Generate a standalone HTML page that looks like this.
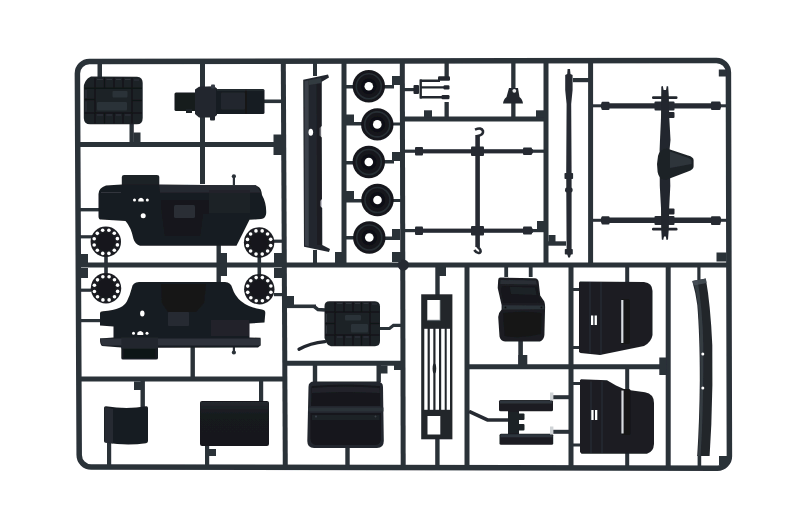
<!DOCTYPE html>
<html><head><meta charset="utf-8"><title>Sprue</title>
<style>
html,body{margin:0;padding:0;background:#fff;}
body{width:800px;height:530px;overflow:hidden;font-family:"Liberation Sans",sans-serif;}
svg{display:block;}
</style></head><body>
<svg width="800" height="530" viewBox="0 0 800 530">
<defs>
<linearGradient id="gStrip" x1="0" x2="1" y1="0" y2="0"><stop offset="0" stop-color="#3a424b"/><stop offset="0.35" stop-color="#23282e"/><stop offset="1" stop-color="#15181c"/></linearGradient>
<radialGradient id="gWheel" cx="0.5" cy="0.5" r="0.5"><stop offset="0" stop-color="#101215"/><stop offset="0.6" stop-color="#14171a"/><stop offset="0.8" stop-color="#2a3037"/><stop offset="1" stop-color="#15181b"/></radialGradient>
<filter id="soft" x="-2%" y="-2%" width="104%" height="104%"><feGaussianBlur stdDeviation="0.55"/></filter>
<linearGradient id="gPanel" x1="0" x2="0" y1="0" y2="1"><stop offset="0" stop-color="#2a2f36" stop-opacity="0.75"/><stop offset="0.3" stop-color="#1a1d21" stop-opacity="0.3"/><stop offset="1" stop-color="#14161a" stop-opacity="0"/></linearGradient>
</defs>
<rect width="800" height="530" fill="#fff"/>
<g filter="url(#soft)">
<!-- FRAME -->
<g id="frame" fill="none" stroke="#2a3038" stroke-width="5" stroke-linecap="butt">
<path stroke-width="5.5" d="M79.2 455 L77.4 73.5 A12 12 0 0 1 89.4 61.5 L716.4 60.4 A12 12 0 0 1 728.4 72.4 L729.4 456 A12 12 0 0 1 717.4 468.2 L91.2 467 A12 12 0 0 1 79.2 455 Z"/>
<path d="M202.5 62 V184"/>
<path d="M283.3 62 L285.3 467"/>
<path d="M344 62 V265"/>
<path d="M402.3 62 L403.2 467"/>
<path d="M546 62 V265"/>
<path d="M590.6 62 V265"/>
<path d="M467 265 V467.6"/>
<path d="M571 265 V468"/>
<path d="M668.2 265 V468"/>
<path d="M78 144.5 H283"/>
<path d="M78 265 H728"/>
<path d="M402 119 H546"/>
<path d="M78 379 H284"/>
<path d="M284 363.3 H402"/>
<path d="M467 366.8 H668"/>
</g>
<circle cx="403.3" cy="265" r="5.6" fill="#262b32"/>
<g id="parts">
<!-- small stubs & tabs (frame colour) -->
<g id="stubs" fill="#2a3038" stroke="none">
<rect x="97.5" y="63" width="4.5" height="14"/>
<rect x="129.5" y="124" width="4.3" height="19"/>
<rect x="133.5" y="132.5" width="7" height="10"/>
<rect x="263" y="99.5" width="19" height="3.6"/>
<rect x="273.5" y="134.5" width="9" height="20.5"/>
<rect x="313" y="63" width="4" height="13"/>
<rect x="313" y="250" width="4" height="14"/>
<rect x="335" y="252" width="8" height="11"/>
</g>
<!-- Tank 1 -->
<g id="tank1">
<path d="M91 76.4 L137 76.7 Q142.7 77 142.7 83 L142.7 118 Q142.7 124.3 137 124.3 L90 124.3 Q84 124.3 83.8 118 L83.8 87 Q84 82 88 78.3 Z" fill="#1f2328"/>
<g fill="none" stroke="#0f1113" stroke-width="1.4" opacity="0.85">
<rect x="95" y="88.2" width="37" height="24.8" rx="1.5"/>
<path d="M95 78 V88.2 M104.5 77.5 V88.2 M114 77.5 V88.2 M123 77.5 V88.2 M132 78 V88.2"/>
<path d="M95 113 V123.5 M104.5 113 V123.5 M114 113 V123.5 M123 113 V123.5 M132 113 V123.5"/>
<path d="M84.5 88.2 H95 M84.5 99.5 H95 M84.5 113 H95 M132 88.2 H142 M132 100.5 H142 M132 113 H142"/>
</g>
<g fill="#2d3239" opacity="0.9"><rect x="112.5" y="91" width="15" height="6.5" rx="1"/><rect x="97" y="102" width="30" height="8.5" rx="1"/></g>
<g fill="none" stroke="#3a4048" stroke-width="0.9" opacity="0.7">
<path d="M97 79.5 H103 M106.5 79.5 H112 M116 79.5 H121 M125 79.5 H130.5 M134 80 H139"/>
<path d="M86 90 V98 M86 101.5 V111.5 M97 115 H103 M106.5 115 H112 M116 115 H121 M125 115 H130.5"/>
</g>
</g>
<!-- Engine / seat part -->
<g id="engine">
<rect x="174.5" y="92.5" width="23" height="18.5" rx="1.5" fill="#181b1f"/>
<rect x="186" y="109" width="6" height="4" fill="#1d2126"/>
<path d="M195 89.5 L199 86.8 L214 86.3 L217 88.5 L217 115 L214 117.5 L199 117.5 L195 114 Z" fill="#23282e"/>
<rect x="211" y="84.5" width="4" height="4" rx="1" fill="#343b44"/>
<rect x="210" y="116" width="5" height="4.5" rx="1" fill="#23282e"/>
<rect x="216" y="89" width="48.5" height="25" rx="1.5" fill="#191c20"/>
<rect x="221" y="92.5" width="24" height="17" rx="1" fill="#22272d"/>
<path d="M246 89.5 V113.5" stroke="#0f1113" stroke-width="1.2"/>
<path d="M217 90 H264" stroke="#3a424b" stroke-width="1" opacity="0.7"/>
</g>
<!-- Long strip -->
<g id="strip1">
<path d="M303.2 79.8 L328 74.5 L329 77.6 L321.8 81.8 L321.8 126 L319.6 128 L319.6 135.5 L321.8 137.5 L322 199 L320 201 L320 206 L322.2 208 L322.3 245 L330 249 L329 252 L304 246.8 Z" fill="#24282e"/>
<path d="M304.6 81.2 L308.6 80.3 L308.8 246.3 L305 245.6 Z" fill="#424951" opacity="0.75"/>
<path d="M308.8 80.3 L321 78 L321.5 83 L308.8 85 Z" fill="#3a4149" opacity="0.7"/>
<path d="M316.5 84 L321 83.5 L321.5 245 L317 245 Z" fill="#15181b" opacity="0.6"/>
<ellipse cx="310.8" cy="132.3" rx="2.3" ry="3.5" fill="#fff"/>
</g>
<!-- Wheels -->
<g id="wheels">
<g fill="#2a3038">
<rect x="346" y="85" width="8" height="3.5"/><rect x="384" y="85" width="10" height="3.5"/><rect x="392" y="76" width="8" height="9"/>
<rect x="346" y="122" width="16" height="3.5"/><rect x="346" y="114.5" width="8" height="8"/><rect x="393" y="122.5" width="8" height="3"/>
<rect x="346" y="161" width="8" height="3.5"/><rect x="384" y="160" width="10" height="3.5"/><rect x="392" y="152" width="8" height="9"/>
<rect x="346" y="199" width="16" height="3.5"/><rect x="346" y="191" width="8" height="8"/><rect x="393" y="199" width="8" height="3"/>
<rect x="346" y="236" width="8" height="3.5"/><rect x="384" y="236.5" width="16" height="3.5"/><rect x="392" y="229" width="8" height="8"/>
</g>
</g>
<g transform="translate(368.8 86.3)"><circle cx="0" cy="0" r="16.2" fill="#15181b"/><circle cx="0" cy="0" r="12.5" fill="none" stroke="#2d343b" stroke-width="1.6" opacity="0.8"/><circle cx="0" cy="0" r="8" fill="#0f1113"/><circle cx="0" cy="0" r="4.3" fill="#fff"/></g><g transform="translate(377.3 124.4)"><circle cx="0" cy="0" r="16.2" fill="#15181b"/><circle cx="0" cy="0" r="12.5" fill="none" stroke="#2d343b" stroke-width="1.6" opacity="0.8"/><circle cx="0" cy="0" r="8" fill="#0f1113"/><circle cx="0" cy="0" r="4.3" fill="#fff"/></g><g transform="translate(368.8 162)"><circle cx="0" cy="0" r="16.2" fill="#15181b"/><circle cx="0" cy="0" r="12.5" fill="none" stroke="#2d343b" stroke-width="1.6" opacity="0.8"/><circle cx="0" cy="0" r="8" fill="#0f1113"/><circle cx="0" cy="0" r="4.3" fill="#fff"/></g><g transform="translate(377.5 200)"><circle cx="0" cy="0" r="16.2" fill="#15181b"/><circle cx="0" cy="0" r="12.5" fill="none" stroke="#2d343b" stroke-width="1.6" opacity="0.8"/><circle cx="0" cy="0" r="8" fill="#0f1113"/><circle cx="0" cy="0" r="4.3" fill="#fff"/></g><g transform="translate(369.3 237.5)"><circle cx="0" cy="0" r="16.2" fill="#15181b"/><circle cx="0" cy="0" r="12.5" fill="none" stroke="#2d343b" stroke-width="1.6" opacity="0.8"/><circle cx="0" cy="0" r="8" fill="#0f1113"/><circle cx="0" cy="0" r="4.3" fill="#fff"/></g>
<!-- Body 1 -->
<g id="body1">
<g fill="#2a3038">
<rect x="80" y="208" width="20" height="3.4"/>
<rect x="264" y="239.6" width="19" height="3.2"/>
<rect x="80" y="235.2" width="13" height="3.2"/>
<rect x="104.2" y="255" width="3.6" height="9"/><rect x="257.5" y="255" width="3.6" height="9"/>
<rect x="104.2" y="267" width="3.6" height="8"/><rect x="257.5" y="267" width="3.6" height="8"/>
<rect x="80" y="254" width="8" height="9"/><rect x="80" y="268" width="8" height="10"/>
<rect x="274" y="253" width="8" height="10"/><rect x="274" y="268" width="8" height="10"/>
<rect x="80" y="288.6" width="11" height="3.2"/><rect x="274" y="293" width="9" height="3.2"/>
<rect x="216.5" y="245" width="4.4" height="19"/><rect x="220" y="253" width="7" height="10"/>
<rect x="216.5" y="267" width="4.4" height="16"/><rect x="220" y="267" width="7" height="9"/>
<rect x="80" y="319" width="22" height="3.2"/>
<rect x="190.5" y="346" width="4.4" height="32"/>
<rect x="232.8" y="176" width="2.2" height="9"/><circle cx="233.9" cy="176.3" r="2.1"/>
<rect x="232.8" y="346" width="2.2" height="6"/><circle cx="233.9" cy="352.5" r="2.1"/>
</g>
<path d="M121.8 185.5 V177 Q121.8 175 124 175 L157 175 Q159.3 175 159.3 177 V185.5 Z" fill="#1f2328"/>
<path d="M98.5 194 Q98.7 188 106 185.6 L121.8 184.6 L159.3 184.6 L255 185.4 Q260.5 186 261.5 192 L262 195 Q266.5 203 266.2 213 Q266 218.5 261 219 L249.5 219.8 Q243 233 236.5 245.8 L140 245.8 Q135 244 133.5 239 Q131 227 125.5 221 L101 219.6 Q98.5 219.6 98.5 216.5 Z" fill="#191c20"/>
<path d="M159.3 185 H256 L261 192.5 H160 Z" fill="#2a2f35" opacity="0.9"/>
<path d="M209 190 H250 V213 H209 Z" fill="#202429" opacity="0.9"/>
<path d="M161 200 H209 V214 H203 L200 236 H165 L162 214 Z" fill="#13161a" opacity="0.9"/>
<rect x="174" y="205" width="21" height="13" rx="1.5" fill="#2a2f36"/>
<path d="M101 192.5 H121" stroke="#30363d" stroke-width="1"/>
<circle cx="134.5" cy="200" r="1.5" fill="#fff"/><path d="M138.3 201.6 V199.5 Q141 196 143.7 199.5 V201.6 Z" fill="#fff"/><circle cx="147.3" cy="200" r="1.5" fill="#fff"/>
<circle cx="143.2" cy="215.8" r="2.5" fill="#fff"/>
</g>
<g transform="translate(105.8 241.8)"><circle r="15.2" fill="#1b1e22"/><circle r="9.3" fill="#15171a"/><circle cx="11.60" cy="3.08" r="1.8" fill="#fff"/><circle cx="8.50" cy="8.47" r="1.8" fill="#fff"/><circle cx="3.13" cy="11.59" r="1.8" fill="#fff"/><circle cx="-3.08" cy="11.60" r="1.8" fill="#fff"/><circle cx="-8.47" cy="8.50" r="1.8" fill="#fff"/><circle cx="-11.59" cy="3.13" r="1.8" fill="#fff"/><circle cx="-11.60" cy="-3.08" r="1.8" fill="#fff"/><circle cx="-8.50" cy="-8.47" r="1.8" fill="#fff"/><circle cx="-3.13" cy="-11.59" r="1.8" fill="#fff"/><circle cx="3.08" cy="-11.60" r="1.8" fill="#fff"/><circle cx="8.47" cy="-8.50" r="1.8" fill="#fff"/><circle cx="11.59" cy="-3.13" r="1.8" fill="#fff"/></g><g transform="translate(259.1 242.5)"><circle r="15.2" fill="#1b1e22"/><circle r="9.3" fill="#15171a"/><circle cx="11.60" cy="3.08" r="1.8" fill="#fff"/><circle cx="8.50" cy="8.47" r="1.8" fill="#fff"/><circle cx="3.13" cy="11.59" r="1.8" fill="#fff"/><circle cx="-3.08" cy="11.60" r="1.8" fill="#fff"/><circle cx="-8.47" cy="8.50" r="1.8" fill="#fff"/><circle cx="-11.59" cy="3.13" r="1.8" fill="#fff"/><circle cx="-11.60" cy="-3.08" r="1.8" fill="#fff"/><circle cx="-8.50" cy="-8.47" r="1.8" fill="#fff"/><circle cx="-3.13" cy="-11.59" r="1.8" fill="#fff"/><circle cx="3.08" cy="-11.60" r="1.8" fill="#fff"/><circle cx="8.47" cy="-8.50" r="1.8" fill="#fff"/><circle cx="11.59" cy="-3.13" r="1.8" fill="#fff"/></g>
<g transform="translate(106 288.3)"><circle r="15.2" fill="#1b1e22"/><circle r="9.3" fill="#15171a"/><circle cx="11.60" cy="3.08" r="1.8" fill="#fff"/><circle cx="8.50" cy="8.47" r="1.8" fill="#fff"/><circle cx="3.13" cy="11.59" r="1.8" fill="#fff"/><circle cx="-3.08" cy="11.60" r="1.8" fill="#fff"/><circle cx="-8.47" cy="8.50" r="1.8" fill="#fff"/><circle cx="-11.59" cy="3.13" r="1.8" fill="#fff"/><circle cx="-11.60" cy="-3.08" r="1.8" fill="#fff"/><circle cx="-8.50" cy="-8.47" r="1.8" fill="#fff"/><circle cx="-3.13" cy="-11.59" r="1.8" fill="#fff"/><circle cx="3.08" cy="-11.60" r="1.8" fill="#fff"/><circle cx="8.47" cy="-8.50" r="1.8" fill="#fff"/><circle cx="11.59" cy="-3.13" r="1.8" fill="#fff"/></g><g transform="translate(259.3 289.2)"><circle r="15.2" fill="#1b1e22"/><circle r="9.3" fill="#15171a"/><circle cx="11.60" cy="3.08" r="1.8" fill="#fff"/><circle cx="8.50" cy="8.47" r="1.8" fill="#fff"/><circle cx="3.13" cy="11.59" r="1.8" fill="#fff"/><circle cx="-3.08" cy="11.60" r="1.8" fill="#fff"/><circle cx="-8.47" cy="8.50" r="1.8" fill="#fff"/><circle cx="-11.59" cy="3.13" r="1.8" fill="#fff"/><circle cx="-11.60" cy="-3.08" r="1.8" fill="#fff"/><circle cx="-8.50" cy="-8.47" r="1.8" fill="#fff"/><circle cx="-3.13" cy="-11.59" r="1.8" fill="#fff"/><circle cx="3.08" cy="-11.60" r="1.8" fill="#fff"/><circle cx="8.47" cy="-8.50" r="1.8" fill="#fff"/><circle cx="11.59" cy="-3.13" r="1.8" fill="#fff"/></g>
<!-- Body 2 -->
<g id="body2">
<path d="M131.8 288 Q132.5 282.5 139 282 L225 282 Q231 282.5 232.3 288 Q238 306 262 309.5 Q265.5 310 265.3 313 L264.5 322.5 L249.5 323.5 L249.5 337.5 L260.5 337.8 L260.5 345.5 L258 347.5 L158 347.8 L158 358 Q158 359.5 156 359.5 L123 359.5 Q121.3 359.5 121.3 358 L121.3 347.5 L102 346 Q99.8 344 100 338.5 L113.5 337.5 L113.5 326.5 L100 325.5 L100 313 Q100 311.5 103 311.3 Q124 310 127.5 300 Q130 295 131.8 288 Z" fill="#191c20"/>
<path d="M161 284 H206 L204 303 L196 312 H168 L162 303 Z" fill="#121418" opacity="0.95"/>
<rect x="168" y="312" width="21" height="14" rx="1" fill="#272c32"/>
<rect x="211" y="320" width="38" height="16" fill="#22262c" opacity="0.9"/>
<path d="M100 338.5 H260.5 V345.5 H102 Z" fill="#2d333a"/>
<rect x="121.3" y="337.5" width="36.7" height="11" fill="#23282e"/>
<rect x="123.5" y="349" width="32" height="9" fill="#111316"/>
<ellipse cx="142.3" cy="313.5" rx="2.2" ry="3" fill="#fff"/>
<circle cx="133.5" cy="333.3" r="1.5" fill="#fff"/><path d="M137.3 335 V332.8 Q140.3 329 143.3 332.8 V335 Z" fill="#fff"/><circle cx="147" cy="333.3" r="1.5" fill="#fff"/>
</g>
<!-- upper middle small parts -->
<g id="upmid">
<g fill="#2a3038">
<rect x="444.5" y="63" width="4.3" height="14"/><rect x="444.5" y="102" width="4.3" height="16"/>
<rect x="424" y="110.3" width="8" height="7.5"/><rect x="536" y="110.3" width="8" height="7.5"/>
<rect x="511.2" y="63" width="4.3" height="26"/><rect x="511.2" y="103" width="4.3" height="15"/>
<rect x="404" y="88" width="12" height="3.2"/>
<rect x="404" y="149.6" width="12" height="3.2"/><rect x="532" y="149.6" width="13" height="3.2"/>
<rect x="404" y="229" width="12" height="3.2"/><rect x="532" y="229" width="13" height="3.2"/>
<rect x="537" y="221" width="8" height="9"/>
<rect x="548" y="241.3" width="18" height="4.4"/><rect x="548.5" y="235" width="7" height="7"/>
<rect x="573" y="78" width="16" height="4.2"/>
</g>
<!-- fork -->
<g fill="#23282e">
<rect x="413.5" y="85" width="5.5" height="9" rx="1"/>
<rect x="419.5" y="79.5" width="2.4" height="19"/>
<path d="M420 79.5 H440 V82 H420 Z M420 86.2 H445 V88.6 H420 Z M420 96 H443 V98.4 H420 Z"/>
<rect x="438" y="76.3" width="12" height="4.4" rx="1.2"/><rect x="443.5" y="85.3" width="6" height="4.2" rx="1.2"/><rect x="441.5" y="95" width="8" height="4.2" rx="1.2"/>
</g>
<!-- bracket -->
<path d="M509 88 H518 L519.5 97 Q522.5 99 523 103.5 L503 103.5 Q503.5 99 506.5 97 Z" fill="#23282e"/>
<circle cx="514.3" cy="90.8" r="1.9" fill="#e8eaec"/>
<!-- H rod frame -->
<g fill="#272c33">
<rect x="415" y="149.2" width="118" height="4.2"/>
<rect x="415" y="228.6" width="118" height="4.2"/>
<rect x="475.3" y="135" width="4.6" height="112"/>
<rect x="415" y="147" width="8" height="8.5" rx="1"/><rect x="523" y="147.5" width="9" height="7.5" rx="1"/>
<rect x="415" y="226.5" width="8" height="8.5" rx="1"/><rect x="523" y="226.5" width="9" height="8" rx="1"/>
<rect x="471" y="146.5" width="13" height="9.5" rx="1"/><rect x="471" y="226" width="13" height="9.5" rx="1"/>
</g>
<path d="M477.6 139 V136 Q483.6 135 483 131 Q481.5 127 475 129.6" fill="none" stroke="#272c33" stroke-width="2.6"/>
<path d="M477.8 243 V247 Q482 250.5 480 252.6 Q477 254 474.3 250" fill="none" stroke="#272c33" stroke-width="2.6"/>
<!-- long rod -->
<g fill="#272c33">
<path d="M567.6 69 L570 69 L570.5 74 L572.6 75 L572.6 90 L571.2 104 L571.6 172 L571.6 252 L570 257.5 L568.2 257.5 L566.6 252 L566.2 172 L566.6 104 L565.2 90 L565.2 75 L567.2 74 Z"/>
<rect x="564.5" y="173" width="8.6" height="6" rx="0.8"/><rect x="565" y="187.5" width="7.6" height="5" rx="2"/><rect x="564.8" y="249" width="8" height="5.5" rx="0.8"/>
</g>
</g>
<!-- axle -->
<g id="axle">
<g fill="#2a3038">
<rect x="592" y="104.3" width="10" height="3"/><rect x="719" y="104.3" width="8" height="3"/>
<rect x="592" y="218.8" width="10" height="3"/><rect x="719" y="218.8" width="8" height="3"/>
<rect x="718.8" y="69.5" width="7.5" height="7"/><rect x="716.5" y="252.5" width="10" height="9"/>
</g>
<g fill="#262b32">
<rect x="601" y="103.3" width="120" height="5.2" rx="1"/><rect x="601" y="217.6" width="120" height="5.4" rx="1"/>
<rect x="601.5" y="101.8" width="8" height="8.2" rx="1"/><rect x="711" y="101.5" width="9.5" height="8.6" rx="1"/>
<rect x="601.5" y="216.3" width="8" height="8.2" rx="1"/><rect x="711" y="216.3" width="9.5" height="8.6" rx="1"/>
<rect x="654.5" y="101.5" width="20" height="9" rx="1"/><rect x="654.5" y="216" width="20" height="9" rx="1"/>
</g>
<g fill="#22272d">
<path d="M661.3 86.5 L662.8 86 L663.6 90 L666 90 L666.8 86 L668.2 86.5 L668.8 96 L669.3 118 L670.5 140 L669.5 150 L670.3 186 L669.2 208 L668.8 229 L668 239.5 L666.5 240 L665.8 236.5 L664 236.5 L663.2 240 L661.8 239.5 L661.2 229 L661 208 L659.8 186 L659.6 150 L660 140 L661 118 Z"/>
<rect x="652" y="96.3" width="25.5" height="2.6" rx="1.2"/><rect x="652" y="227.8" width="25.5" height="2.6" rx="1.2"/>
<rect x="668" y="112" width="6.5" height="6" rx="1"/><rect x="668" y="208.5" width="6.5" height="6" rx="1"/>
</g>
<path d="M667 148.5 L688 155.5 Q693.6 157 693.6 160 L693.6 166.5 Q693.6 169.5 688 171.5 L667 179.6 Q659 180.5 657.6 172 Q656.3 163.5 658 156 Q660 148.5 667 148.5 Z" fill="#1e2227"/>
<path d="M670 151.5 L687 157.5 Q691.5 159 691.5 161 L691.5 164 L670 168 Z" fill="#353c44" opacity="0.7"/>
</g>
<!-- bottom-left panels -->
<g id="bl">
<g fill="#2a3038">
<rect x="140.5" y="381" width="4.4" height="26"/><rect x="134" y="381.5" width="8" height="8.5"/>
<rect x="107" y="443" width="4.2" height="23"/>
<rect x="259" y="381" width="4.2" height="21"/>
<rect x="205" y="445.5" width="4.2" height="21"/><rect x="208" y="449" width="8" height="7"/>
<rect x="312.8" y="365" width="4.4" height="17"/><rect x="376.5" y="365" width="4.4" height="17"/><rect x="380" y="365.5" width="7.5" height="8"/>
<rect x="345.3" y="447.5" width="4.4" height="19"/>
<rect x="286" y="304.5" width="30" height="3.6"/><rect x="286" y="296" width="8" height="9"/>

<rect x="435.3" y="267" width="4.4" height="28"/><rect x="439" y="267" width="7" height="9"/>
<rect x="435.2" y="439" width="4.4" height="27"/>
<rect x="394" y="361" width="8" height="9"/>
<rect x="392" y="252" width="9" height="10"/>
</g>
<path d="M314 306.3 L318 309.5 L325 310" fill="none" stroke="#2a3038" stroke-width="3.4"/>
<path d="M299 349.3 Q310 343 325 341.6" fill="none" stroke="#22272d" stroke-width="3.3" stroke-linecap="round"/>
<path d="M380 328.5 L389.5 328.5 L393.5 325.3 L401 325.3" fill="none" stroke="#2a3038" stroke-width="3.2"/>
<path d="M104 408 Q104 406.2 106 406.3 Q127 409.5 146 406.3 Q148 406 148 408 L148 441 Q148 443 146 443.3 Q127 446 106 442.8 Q104 442.5 104 441 Z" fill="#191c20"/>
<path d="M104.5 407 Q112 408.5 113 409 L113 443.5 L104.5 442.3 Z" fill="#282d34" opacity="0.8"/>
<path d="M200 403 Q200 401 202 401 L267 401 Q269 401 269 403 L269 444 Q269 446 267 446 L202 446 Q200 446 200 444 Z" fill="#17191d"/>
<rect x="200.5" y="402" width="68" height="44" fill="url(#gPanel)"/>
<!-- hood -->
<path d="M308.5 387 Q308.5 381.5 314 381.5 L377 381.5 Q383 381.5 383 387 L383.8 441 Q383.8 448 377 448 L314 448 Q307.3 448 307.3 441 Z" fill="#24282e"/>
<path d="M311.5 386 Q345 383 380 386 L380.5 406 L311 406 Z" fill="#16191d"/>
<path d="M312 388 Q345 385.5 379.5 388 L379.8 393 Q345 391 311.8 393 Z" fill="#22262c" opacity="0.9"/>
<path d="M308 407.5 H383.4 V411.5 H308 Z" fill="#2c3138"/>
<path d="M310.5 413 H381 L381 438 Q381 445 375 445 L316 445 Q310.5 445 310.5 438 Z" fill="#14161a"/>
<path d="M312 415 H379.5 V420 H312 Z" fill="#1f2328" opacity="0.9"/>
<circle cx="316" cy="416.5" r="1" fill="#3a4048"/><circle cx="375.5" cy="416.5" r="1" fill="#3a4048"/>
<!-- tank 2 -->
<path d="M329.5 301.2 L375 301.2 Q380 301.5 380 306.5 L380 341 Q380 346.2 375 346.2 L331 346.2 Q328 346 326.5 343 L324.5 338 L324.5 306 Q324.5 301.2 329.5 301.2 Z" fill="#1f2328"/>
<g fill="none" stroke="#0f1113" stroke-width="1.4" opacity="0.85">
<rect x="335" y="312" width="35" height="23" rx="1.5"/>
<path d="M335 302 V312 M344 302 V312 M353 302 V312 M361.5 302 V312 M370 302 V312"/>
<path d="M335 335 V345.5 M344 335 V345.5 M353 335 V345.5 M361.5 335 V345.5 M370 335 V345.5"/>
<path d="M325 312 H335 M325 323.5 H335 M325 335 H335 M370 312 H379.5 M370 323.5 H379.5 M370 335 H379.5"/>
</g>
<g fill="#2d3239" opacity="0.9"><rect x="345" y="315" width="16" height="5.5" rx="1"/><rect x="351" y="324" width="17" height="8.5" rx="1"/></g>
<g fill="none" stroke="#3a4048" stroke-width="0.9" opacity="0.7">
<path d="M337 303.5 H342.5 M346 303.5 H351.5 M355 303.5 H360 M363.5 303.5 H368.5 M372 304 H377"/>
<path d="M326.5 314 V322 M326.5 325.5 V333.5 M337 337 H342.5 M346 337 H351.5 M355 337 H360 M363.5 337 H368.5"/>
</g>
</g>
<!-- grille -->
<g id="grille">
<rect x="421.2" y="294.3" width="31.2" height="145" fill="#21252b"/>
<rect x="427.3" y="300" width="13" height="20.5" fill="#fff"/>
<rect x="427.5" y="416" width="12.8" height="18.5" fill="#fff"/>
<path d="M440.3 300 V320.5 M427.3 320.5 H440.3" stroke="#3a424a" stroke-width="1.3" fill="none" opacity="0.6"/>
<g fill="#fff">
<rect x="424.3" y="328.8" width="3.3" height="81"/><rect x="429.8" y="328.8" width="3.5" height="81"/><rect x="435.5" y="328.8" width="3.5" height="81"/><rect x="441.2" y="328.8" width="3.5" height="81"/><rect x="446.7" y="328.8" width="3.3" height="81"/>
</g>
<ellipse cx="434.4" cy="368.5" rx="1.8" ry="5" fill="#21252b"/>
</g>
<!-- seat -->
<g id="seat">
<g fill="#2a3038">
<rect x="504.3" y="267" width="3.8" height="10"/><rect x="528.8" y="267" width="3.8" height="10"/>
<rect x="518.3" y="340" width="4.6" height="25"/><rect x="518.3" y="355" width="9" height="10"/>
<rect x="625.2" y="267" width="4" height="15"/><rect x="625.2" y="368" width="4" height="22"/><rect x="625.2" y="452" width="4" height="14"/>
<rect x="573" y="288" width="7" height="3"/><rect x="573" y="346" width="7" height="3"/><rect x="573" y="382" width="8" height="3"/><rect x="573" y="443.5" width="8" height="3"/>
<rect x="659.3" y="357.5" width="7" height="17.5"/>
<rect x="553" y="395.2" width="17" height="4"/><rect x="553" y="429.8" width="17" height="4"/>
<rect x="697.3" y="267" width="3.2" height="13"/>
<rect x="719" y="456" width="8" height="9.5"/><rect x="697.6" y="455" width="3.6" height="11"/>
</g>
<path d="M498.2 280 Q498.2 277.6 500.5 277.6 L535 278.2 Q538 278.4 538.6 281.5 L540.2 295.5 L544.3 301.5 Q545.1 304 545.1 307 L544.4 335 Q544 340 540 341.4 L505 341.4 Q500.5 341 499.5 336.5 L498.2 317 Q498.2 313 501.6 309.5 L501.6 305 L497.7 288 Z" fill="#1b1e22"/>
<path d="M500.5 280 L536 280.6 L536.8 284.5 L500.3 284 Z" fill="#2d333a" opacity="0.85"/>
<path d="M502 286 L537 286.5 L539 297 L542 302.5 L503.5 303 L501 290 Z" fill="#14171a"/>
<path d="M510 287 L535 287.5 L536.5 295 L511 294 Z" fill="#262b31" opacity="0.6"/>
<path d="M502.5 305.3 L544.5 305.5 L544.5 309.3 L502.5 309.5 Z" fill="#2b3037"/>
<path d="M503 313 Q522 310.5 541.5 313 L541 334 Q522 339 504.5 336 Z" fill="#131619"/>
<circle cx="505.5" cy="307.4" r="0.9" fill="#0c0d0f"/><circle cx="541.5" cy="307.4" r="0.9" fill="#0c0d0f"/>
</g>
<!-- benches -->
<g id="bench">
<path d="M469 411.3 L487.5 420 L509 420" fill="none" stroke="#262b32" stroke-width="3.6"/>
<rect x="508" y="410" width="11" height="25" fill="#1c2025"/>
<rect x="518" y="413.5" width="6.5" height="6.5" rx="1" fill="#1c2025"/><rect x="518" y="424" width="6.5" height="6.5" rx="1" fill="#1c2025"/>
<rect x="499" y="400" width="54" height="11.3" rx="1.5" fill="#1b1e22"/>
<rect x="499.5" y="433.8" width="53.7" height="11" rx="1.5" fill="#1b1e22"/>
<rect x="500" y="400.5" width="52" height="3" fill="#343b43" opacity="0.8"/><rect x="500.5" y="434.3" width="52" height="3" fill="#343b43" opacity="0.8"/>
<rect x="550" y="392.5" width="3.4" height="8" fill="#cfd3d6"/><rect x="550" y="426.5" width="3.4" height="8" fill="#cfd3d6"/>
</g>
<!-- doors -->
<g id="doors">
<path d="M579 282.5 L580 281.5 L644 282 Q652.5 283 652.5 291 L652.5 335 Q651.5 342 644 346 L600 355 L580.5 353 L579 352 Z" fill="#1c1f24"/>
<path d="M590 282 V353.5 M601 282 V354.5" stroke="#30363d" stroke-width="1" opacity="0.8"/>
<rect x="621.3" y="299" width="8.5" height="45" rx="1.5" fill="#121417"/>
<rect x="621.2" y="300" width="2.2" height="43" fill="#d9dcdf"/>
<rect x="591" y="315.5" width="2.3" height="9.5" fill="#fff"/><rect x="594.6" y="315.5" width="2.3" height="9.5" fill="#fff"/>
<path d="M580 380.3 L581 379.3 L607 380.3 L616 385.5 L625 389.5 L645 392.3 Q654 394 654 403 L654 444 Q653.5 452 647 453.7 L581.5 453.7 L580 452 Z" fill="#1c1f24"/>
<path d="M591 381.5 V453 M602 381.5 V453" stroke="#30363d" stroke-width="1" opacity="0.8"/>
<rect x="621.5" y="389" width="9" height="46" rx="1.5" fill="#121417"/>
<rect x="621.4" y="390.5" width="2.2" height="43" fill="#d9dcdf"/>
<rect x="591.3" y="410" width="2.3" height="10" fill="#fff"/><rect x="595" y="410" width="2.3" height="10" fill="#fff"/>
</g>
<!-- right strip -->
<g id="strip2">
<path d="M692.3 281 L705.8 278.6 Q710.5 305 712.3 345 Q713 385 711.3 425 L709.6 456 L697.2 456 Q699.5 420 699.8 380 Q699.8 335 697.3 305 Q695.5 292 692.3 281 Z" fill="#22262b"/>
<path d="M693.5 281 L697.6 280.3 Q702.6 310 703.3 345 Q703.5 390 702 430 L700.5 456 L698 456 Q700.2 420 700.5 380 Q700.5 335 698 305 Q696.5 292 693.5 281 Z" fill="#3b424a" opacity="0.8"/>
<path d="M692.3 281 L705.8 278.6 L706.6 283 L693.4 285.6 Z" fill="#4a515a" opacity="0.8"/>
<circle cx="702.8" cy="354" r="1.5" fill="#fff"/><circle cx="702.8" cy="388" r="1.5" fill="#fff"/>
</g>
</g>
</g>
</svg>
</body></html>
